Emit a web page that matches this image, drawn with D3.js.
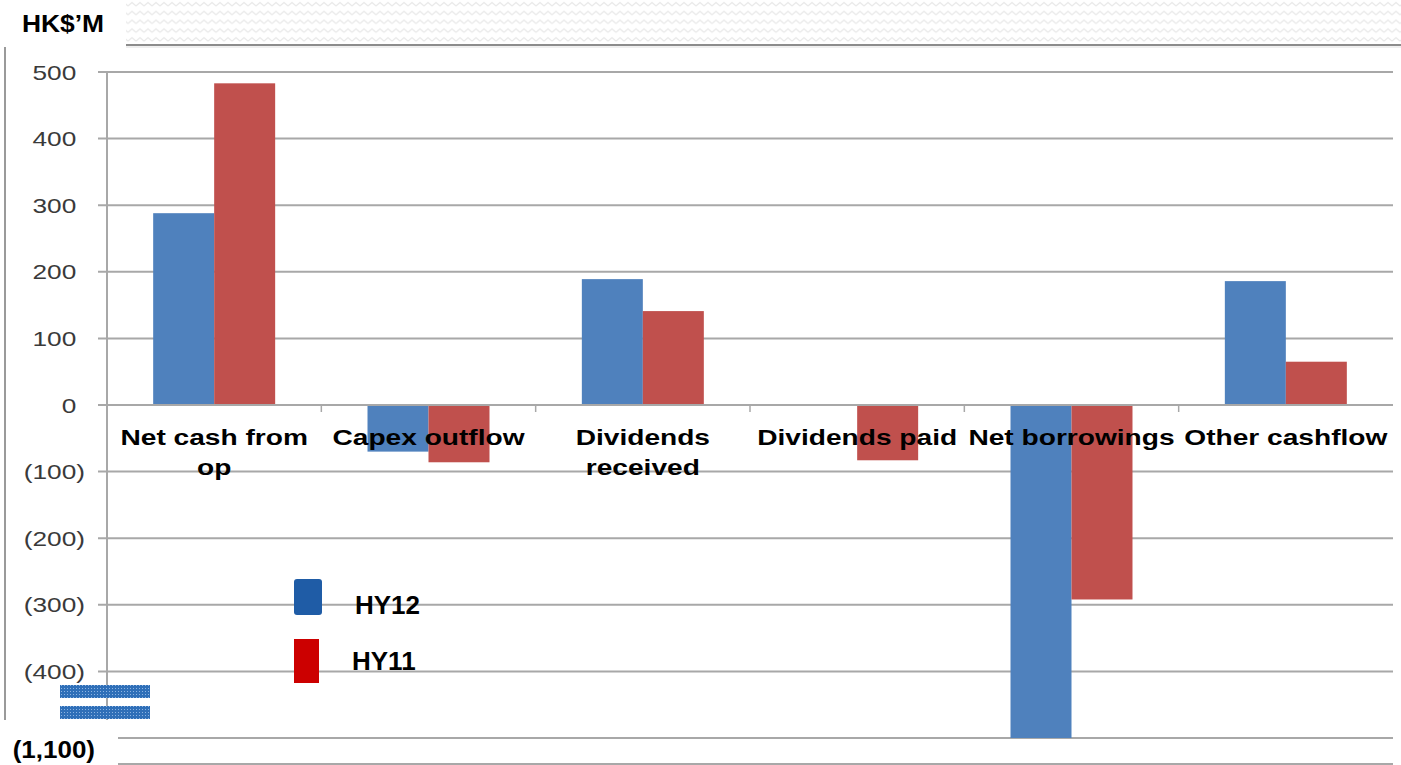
<!DOCTYPE html>
<html>
<head>
<meta charset="utf-8">
<script src="https://cdn.jsdelivr.net/npm/d3@7/dist/d3.min.js"></script>
<style>
  html, body { margin: 0; padding: 0; background: #fff; }
  svg { display: block; }
  text { font-family: "Liberation Sans", Arial, sans-serif; }
</style>
</head>
<body>
<svg id="chart" width="1401" height="765"></svg>
<script>
// ---------- data ----------
const categories = ["Net cash from op", "Capex outflow", "Dividends received", "Dividends paid", "Net borrowings", "Other cashflow"];
const categoryLines = [["Net cash from", "op"], ["Capex outflow"], ["Dividends", "received"], ["Dividends paid"], ["Net borrowings"], ["Other cashflow"]];
const seriesNames = ["HY12", "HY11"];
const hy12Values = [288, -70, 189, 0, -1100, 186];
const hy11Values = [483, -86, 141, -83, -292, 65];
const yTickValues = [500, 400, 300, 200, 100, 0, -100, -200, -300, -400, -1100];
const yTickLabels = ["500", "400", "300", "200", "100", "0", "(100)", "(200)", "(300)", "(400)", "(1,100)"];
const unitLabel = "HK$\u2019M";

// ---------- layout ----------
const W = 1401, H = 765;
const plot = { left: 107, right: 1393, top: 72, bottom: 738 };
const barColors = { HY12: "#4f81bd", HY11: "#c0504d" };
const legendColors = { HY12: "#1f5ca6", HY11: "#cc0000" };
const gridColor = "#a8a8a8";
const stretch = 1.25;

const svg = d3.select("#chart");
const defs = svg.append("defs");

// zigzag header pattern
const zz = defs.append("pattern").attr("id", "zigzag").attr("patternUnits", "userSpaceOnUse")
  .attr("width", 8).attr("height", 8.8);
zz.append("rect").attr("width", 8).attr("height", 8.8).attr("fill", "#fff");
zz.append("path").attr("d", "M0,6 L4,2.5 L8,6").attr("fill", "none")
  .attr("stroke", "#e8e8e8").attr("stroke-width", 1.2);

// dotted blue pattern for axis-break marks
const dp = defs.append("pattern").attr("id", "dots").attr("patternUnits", "userSpaceOnUse")
  .attr("width", 3).attr("height", 3);
dp.append("rect").attr("width", 3).attr("height", 3).attr("fill", "#2f6fb8");
dp.append("rect").attr("x", 1).attr("y", 1).attr("width", 1).attr("height", 1).attr("fill", "#8db4e2");

// header
svg.append("rect").attr("x", 126).attr("y", 0).attr("width", W - 126).attr("height", 44).attr("fill", "url(#zigzag)");
svg.append("line").attr("x1", 126).attr("x2", W).attr("y1", 45).attr("y2", 45)
  .attr("stroke", "#8c8c8c").attr("stroke-width", 2);
svg.append("line").attr("x1", 126).attr("x2", W).attr("y1", 47).attr("y2", 47)
  .attr("stroke", "#e0e0e0").attr("stroke-width", 1);
svg.append("text").attr("transform", `translate(22,32) scale(1.1,1)`)
  .attr("font-size", 24).attr("font-weight", "bold").attr("fill", "#000").text(unitLabel);

// left border
svg.append("line").attr("x1", 5).attr("x2", 5).attr("y1", 47).attr("y2", 720)
  .attr("stroke", "#9a9a9a").attr("stroke-width", 2);

// ---------- scales ----------
const yMain = d3.scaleLinear().domain([-500, 500]).range([plot.bottom, plot.top]);
const y = d3.scaleLinear()
  .domain([-1100, -400, 500])
  .range([yMain(-500), yMain(-400), yMain(500)]);

const x0 = d3.scaleBand().domain(categories).range([plot.left, plot.right]).padding(0);
const x1 = d3.scaleBand().domain(seriesNames).range([0, x0.bandwidth()]).paddingInner(0).paddingOuter(0.757);

// ---------- gridlines ----------
const grid = svg.append("g");
grid.selectAll("line").data(yTickValues).join("line")
  .attr("x1", d => d === -1100 ? 118 : plot.left - 9)
  .attr("x2", plot.right)
  .attr("y1", d => y(d)).attr("y2", d => y(d))
  .attr("stroke", gridColor).attr("stroke-width", 2);
// bottom frame line
svg.append("line").attr("x1", 118).attr("x2", plot.right).attr("y1", 764).attr("y2", 764)
  .attr("stroke", gridColor).attr("stroke-width", 2);

// vertical axis line
svg.append("line").attr("x1", plot.left).attr("x2", plot.left).attr("y1", plot.top).attr("y2", 720)
  .attr("stroke", gridColor).attr("stroke-width", 2);

// ---------- y tick labels ----------
const yl = svg.append("g");
yTickValues.forEach((v, i) => {
  const lab = yTickLabels[i];
  if (v === -1100) {
    yl.append("text").attr("transform", `translate(95,${y(v) + 20}) scale(1.13,1)`)
      .attr("text-anchor", "end").attr("font-size", 23).attr("font-weight", "bold")
      .attr("fill", "#000").text(lab);
  } else {
    const t = yl.append("text").attr("transform", `translate(85,${y(v) + 7.5}) scale(1.25,1)`)
      .attr("text-anchor", "end").attr("font-size", 21).attr("fill", "#3a3a3a");
    t.append("tspan").text(lab);
    if (v >= 0) t.append("tspan").attr("fill-opacity", 0).text(")");
  }
});

// ---------- bars ----------
const rows = categories.map((c, i) => ({ cat: c, values: [
  { key: "HY12", value: hy12Values[i] },
  { key: "HY11", value: hy11Values[i] }
]}));

const groups = svg.append("g").selectAll("g").data(rows).join("g")
  .attr("transform", d => `translate(${x0(d.cat)},0)`);
groups.selectAll("rect").data(d => d.values.filter(v => v.value !== 0)).join("rect")
  .attr("x", d => x1(d.key))
  .attr("width", x1.bandwidth())
  .attr("y", d => y(Math.max(0, d.value)))
  .attr("height", d => Math.abs(y(d.value) - y(0)))
  .attr("fill", d => barColors[d.key]);

// zero line redrawn on top + category ticks
svg.append("line").attr("x1", plot.left - 9).attr("x2", plot.right).attr("y1", y(0)).attr("y2", y(0))
  .attr("stroke", gridColor).attr("stroke-width", 2);
svg.append("g").selectAll("line").data(categories.slice(1)).join("line")
  .attr("x1", d => x0(d)).attr("x2", d => x0(d))
  .attr("y1", y(0)).attr("y2", y(0) + 7)
  .attr("stroke", gridColor).attr("stroke-width", 1.5);

// ---------- category labels ----------
const cl = svg.append("g");
categories.forEach((c, i) => {
  const cx = x0(c) + x0.bandwidth() / 2;
  categoryLines[i].forEach((line, j) => {
    cl.append("text").attr("transform", `translate(${cx},${y(0) + 40 + j * 30}) scale(${stretch},1)`)
      .attr("text-anchor", "middle").attr("font-size", 22.5).attr("font-weight", "bold")
      .attr("fill", "#000").text(line);
  });
});

// ---------- legend ----------
const legend = svg.append("g");
const legendItems = [
  { key: "HY12", rx: 294, ry: 579, rw: 28, rh: 36, r: 3, tx: 355, ty: 614 },
  { key: "HY11", rx: 294, ry: 639, rw: 25, rh: 44, r: 0, tx: 352, ty: 670 }
];
legendItems.forEach(it => {
  legend.append("rect").attr("x", it.rx).attr("y", it.ry).attr("width", it.rw).attr("height", it.rh)
    .attr("rx", it.r).attr("fill", legendColors[it.key]);
  legend.append("text").attr("x", it.tx).attr("y", it.ty).attr("font-size", 26)
    .attr("font-weight", "bold").attr("fill", "#000").text(it.key);
});

// ---------- axis break marks ----------
svg.append("rect").attr("x", 60).attr("y", 685).attr("width", 90).attr("height", 13).attr("fill", "url(#dots)");
svg.append("rect").attr("x", 60).attr("y", 706).attr("width", 90).attr("height", 13).attr("fill", "url(#dots)");
</script>
</body>
</html>
